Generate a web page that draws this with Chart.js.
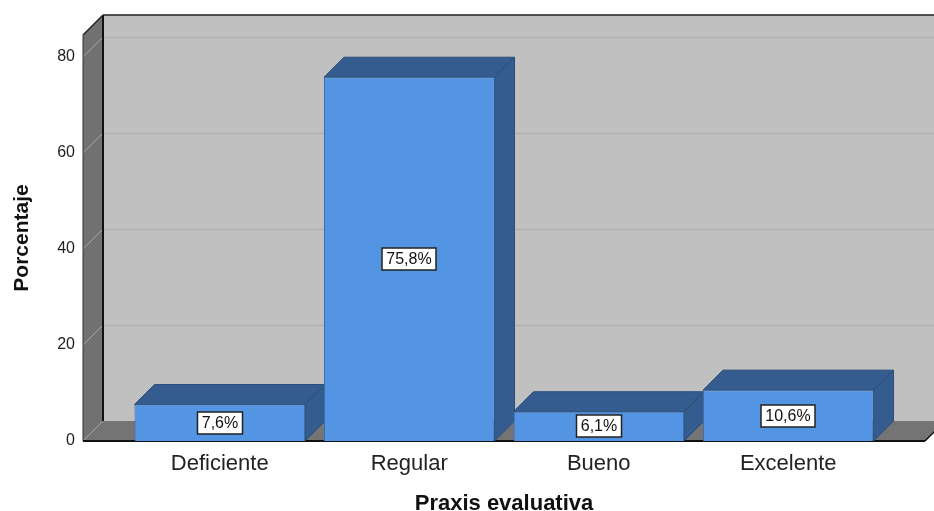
<!DOCTYPE html>
<html>
<head>
<meta charset="utf-8">
<script src="https://cdn.jsdelivr.net/npm/chart.js@4.4.0/dist/chart.umd.min.js"></script>
<style>
  html, body { margin: 0; padding: 0; background: #fff; }
  canvas { display: block; }
</style>
</head>
<body>
<canvas id="barChart" width="934" height="511"></canvas>
<script>
// Praxis evaluativa - 3D bar chart (SPSS look)

const categories = ["Deficiente", "Regular", "Bueno", "Excelente"];
const percentages = [7.6, 75.8, 6.1, 10.6];
const yTicks = [0, 20, 40, 60, 80];
const yMax = 84.6;

const DEPTH = 20;  // 3d offset, px
const SIDE = 42;   // floor sticks out past the category band

const frontColor = '#5394e3';
const shadeColor = '#345c8e';

function poly(ctx, pts, fill, stroke, lw) {
    ctx.beginPath();
    ctx.moveTo(pts[0][0], pts[0][1]);
    for (let i = 1; i < pts.length; i++) ctx.lineTo(pts[i][0], pts[i][1]);
    ctx.closePath();
    if (fill) { ctx.fillStyle = fill; ctx.fill(); }
    if (stroke) { ctx.strokeStyle = stroke; ctx.lineWidth = lw || 1; ctx.stroke(); }
}

function line(ctx, x1, y1, x2, y2, color, lw) {
    ctx.beginPath();
    ctx.moveTo(x1, y1);
    ctx.lineTo(x2, y2);
    ctx.strokeStyle = color;
    ctx.lineWidth = lw;
    ctx.stroke();
}

const box3d = {
    id: 'box3d',
    beforeDatasetsDraw(chart) {
        const ctx = chart.ctx, ys = chart.scales.y, a = chart.chartArea;
        const d = DEPTH;
        const L = a.left - SIDE, R = a.right + SIDE;
        const top = ys.getPixelForValue(yMax), bot = ys.getPixelForValue(0);
        ctx.save();

        // back wall + its grid
        ctx.fillStyle = '#c0c0c0';
        ctx.fillRect(L + d, top - d, R - L, bot - top);
        yTicks.forEach(v => {
            if (v === 0) return;
            const py = Math.round(ys.getPixelForValue(v) - d) + 0.5;
            line(ctx, L + d, py, R + d, py, '#b0b0b0', 1.5);
        });

        // side wall and floor
        poly(ctx, [[L, top], [L + d, top - d], [L + d, bot - d], [L, bot]], '#717171');
        poly(ctx, [[L, bot], [L + d, bot - d], [R + d, bot - d], [R, bot]], '#747474');
        yTicks.forEach(v => {
            const py = ys.getPixelForValue(v);
            line(ctx, L, py, L + d, py - d, '#a9a9a9', 1);
        });

        // edges
        line(ctx, L + d, top - d, L + d, bot - d, '#111', 2);
        line(ctx, L + d, top - d, R + d, top - d, '#222', 1.5);
        line(ctx, L, top, L + d, top - d, '#222', 1.5);
        line(ctx, L, top, L, bot, '#333', 1);
        line(ctx, L, bot, R, bot, '#111', 2);
        line(ctx, R, bot, R + d, bot - d, '#111', 1.5);

        // top and side faces of every bar
        chart.getDatasetMeta(0).data.forEach(bar => {
            const x0 = bar.x - bar.width / 2, x1 = bar.x + bar.width / 2;
            const y = bar.y, b = bar.base;
            poly(ctx, [[x0, y], [x0 + d, y - d], [x1 + d, y - d], [x1, y]], shadeColor, '#2b4d78', 1);
            poly(ctx, [[x1, y], [x1 + d, y - d], [x1 + d, b - d], [x1, b]], shadeColor, '#2b4d78', 1);
        });
        ctx.restore();
    },
    afterDatasetsDraw(chart) {
        const ctx = chart.ctx;
        ctx.save();
        ctx.font = '16px "Liberation Sans", Arial, sans-serif';
        ctx.textAlign = 'center';
        ctx.textBaseline = 'middle';
        chart.getDatasetMeta(0).data.forEach((bar, i) => {
            const txt = percentages[i].toFixed(1).replace('.', ',') + '%';
            const w = Math.round(ctx.measureText(txt).width + 9);
            const h = 22;
            const cy = Math.round((bar.y + bar.base) / 2);
            const cx = Math.round(bar.x);
            ctx.fillStyle = '#fff';
            ctx.fillRect(cx - w / 2, cy - h / 2, w, h);
            ctx.strokeStyle = '#222';
            ctx.lineWidth = 1.5;
            ctx.strokeRect(cx - w / 2, cy - h / 2, w, h);
            ctx.fillStyle = '#111';
            ctx.fillText(txt, cx, cy + 1);
        });
        ctx.restore();
    }
};

new Chart(document.getElementById("barChart"), {
    type: 'bar',
    data: {
        labels: categories,
        datasets: [{
            label: "Porcentaje",
            data: percentages,
            backgroundColor: frontColor,
            borderColor: '#3d6fae',
            borderWidth: 1,
            barPercentage: 0.9,
            categoryPercentage: 1.0
        }]
    },
    options: {
        responsive: false,
        animation: false,
        layout: { padding: { top: 35, right: 51, left: 0, bottom: 0 } },
        plugins: {
            legend: { display: false },
            tooltip: { enabled: false }
        },
        scales: {
            x: {
                grid: { display: false, drawTicks: false },
                border: { display: false },
                ticks: {
                    color: '#222',
                    padding: 10,
                    font: { family: '"Liberation Sans", Arial, sans-serif', size: 22 }
                },
                title: {
                    display: true,
                    text: 'Praxis evaluativa',
                    color: '#111',
                    padding: { top: 0, bottom: -6 },
                    font: { family: '"Liberation Sans", Arial, sans-serif', size: 22, weight: 'bold' }
                },
                afterFit: s => { s.height = 70; }
            },
            y: {
                min: 0,
                max: yMax,
                grid: { display: false, drawTicks: false },
                border: { display: false },
                ticks: {
                    stepSize: 20,
                    color: '#222',
                    padding: 50,
                    font: { family: '"Liberation Sans", Arial, sans-serif', size: 16 }
                },
                afterBuildTicks: s => { s.ticks = yTicks.map(v => ({ value: v })); },
                title: {
                    display: true,
                    text: 'Porcentaje',
                    color: '#111',
                    padding: { top: 10, bottom: 0 },
                    font: { family: '"Liberation Sans", Arial, sans-serif', size: 21, weight: 'bold' }
                },
                afterFit: s => { s.width = 125; s.paddingTop = 0; s.paddingBottom = 0; }
            }
        }
    },
    plugins: [box3d]
});
</script>
</body>
</html>
